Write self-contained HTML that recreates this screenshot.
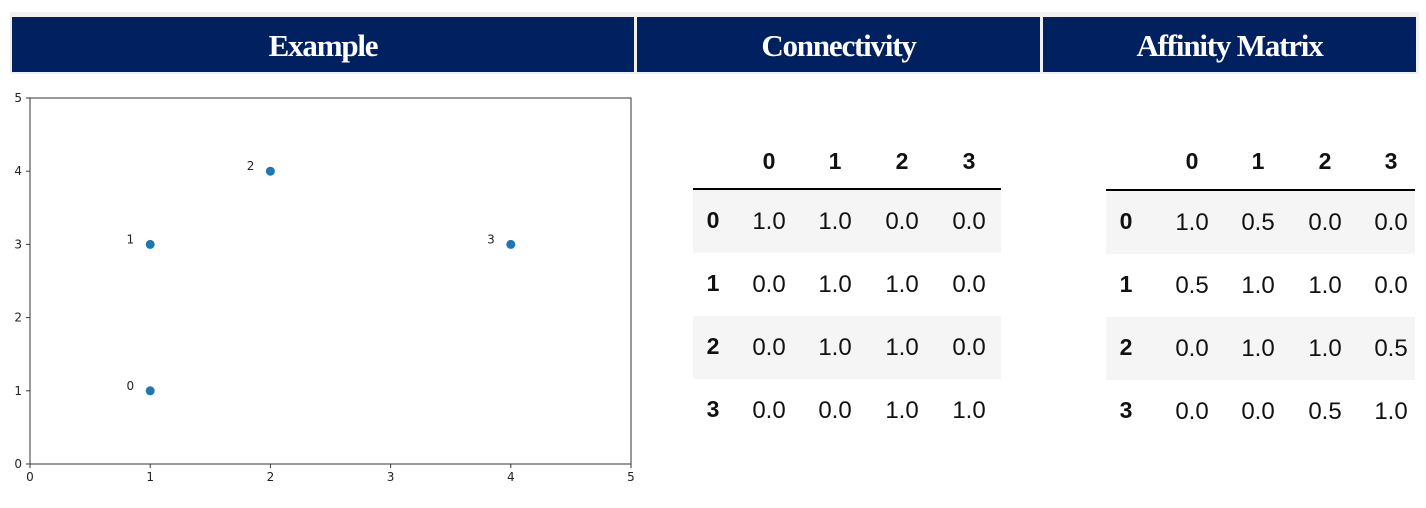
<!DOCTYPE html>
<html><head><meta charset="utf-8"><style>
body{margin:0;width:1426px;height:508px;background:#fff;position:relative;overflow:hidden;font-family:"Liberation Sans",sans-serif}
.hdr{position:absolute;top:12px;left:10px;width:1409px;height:62px;background:#f0f0f0}
.hc{position:absolute;top:5px;height:55px;background:#002060;color:#fff;font-family:"Liberation Serif",serif;font-weight:bold;font-size:31px;text-align:center;line-height:57px;letter-spacing:-1.2px}
.t{position:absolute;font-size:24px;color:#111}
.t .c{position:absolute;transform:translateX(-50%);white-space:nowrap;line-height:28px}
.t .h{font-weight:bold;font-size:23px}
.row{position:absolute;height:63px}
</style></head><body>
<div class="hdr">
<div class="hc" style="left:2px;width:622px">Example</div>
<div class="hc" style="left:627px;width:403px">Connectivity</div>
<div class="hc" style="left:1033px;width:373px">Affinity Matrix</div>
</div>
<svg id="plot" style="position:absolute;left:0;top:0" width="660" height="508"></svg>
<div id="t1" class="t"></div>
<div id="t2" class="t"></div>
<script>
const xs=[1,1,2,4];
const ys=[1,3,4,3];
const labels=["0","1","2","3"];
const ticks=[0,1,2,3,4,5];
const conn=[[1,1,0,0],[0,1,1,0],[0,1,1,0],[0,0,1,1]];
const aff=[[1,0.5,0,0],[0.5,1,1,0],[0,1,1,0.5],[0,0,0.5,1]];
const NS="http://www.w3.org/2000/svg";
const svg=document.getElementById('plot');
const X0=30,X1=631,Y0=464,Y1=98;
const sx=v=>X0+(X1-X0)*v/5, sy=v=>Y0-(Y0-Y1)*v/5;
function mk(t,a,txt){const e=document.createElementNS(NS,t);for(const k in a)e.setAttribute(k,a[k]);if(txt!==undefined)e.textContent=txt;svg.appendChild(e);return e;}
let r=mk('rect',{x:X0,y:Y1,width:X1-X0,height:Y0-Y1,fill:'none',stroke:'#333','stroke-width':1});


ticks.forEach(t=>{
 let l=mk('line',{x1:sx(t),x2:sx(t),y1:Y0,y2:Y0+4,stroke:'#333'});
 
 
 let tx=mk('text',{x:sx(t),y:Y0+17,'font-size':12,'text-anchor':'middle',fill:'#222','font-family':'DejaVu Sans, sans-serif'},t);
 
 
 let l2=mk('line',{x1:X0-4,x2:X0,y1:sy(t),y2:sy(t),stroke:'#333'});
 
 
 let ty=mk('text',{x:X0-8,y:sy(t)+4,'font-size':12,'text-anchor':'end',fill:'#222','font-family':'DejaVu Sans, sans-serif'},t);
 
 
});
xs.forEach((x,i)=>{
 let c=mk('circle',{cx:sx(x),cy:sy(ys[i]),r:4.5,fill:'#1f77b4'});
 
 
 let t=mk('text',{x:sx(x)-16,y:sy(ys[i])-1,'font-size':12,'text-anchor':'end',fill:'#222','font-family':'DejaVu Sans, sans-serif'},labels[i]);
 
 
});
function table(id,data,left,width,idxX,cols,headY,lineY,rowY){
 const el=document.getElementById(id);
 el.style.left=left+'px';el.style.top='0px';
 for(let i=0;i<4;i++){
  if(i%2==0){const b=document.createElement('div');b.className='row';b.style.cssText=`left:0;width:${width}px;top:${lineY+1+i*63}px;background:#f5f5f5`;
   
   el.appendChild(b);}
 }
 const ln=document.createElement('div');ln.style.cssText=`position:absolute;left:0;width:${width}px;top:${lineY-1}px;height:2px;background:#000`;
 
 el.appendChild(ln);
 cols.forEach((cx,j)=>{const d=document.createElement('div');d.className='c h';d.style.left=cx+'px';d.style.top=(headY-14)+'px';d.textContent=j;
  
  el.appendChild(d);});
 data.forEach((row,i)=>{
  const d=document.createElement('div');d.className='c h';d.style.left=idxX+'px';d.style.top=(rowY+i*63-16)+'px';d.textContent=i;
  
  el.appendChild(d);
  row.forEach((v,j)=>{const c=document.createElement('div');c.className='c';c.style.left=cols[j]+'px';c.style.top=(rowY+i*63-14)+'px';c.textContent=v.toFixed(1);
   
   el.appendChild(c);});
 });
}
table('t1',conn,693,308,20,[76,142,209,276],161,189,222);
table('t2',aff,1106,309,20,[86,152,219,285],161,190,223);
</script>
</body></html>
